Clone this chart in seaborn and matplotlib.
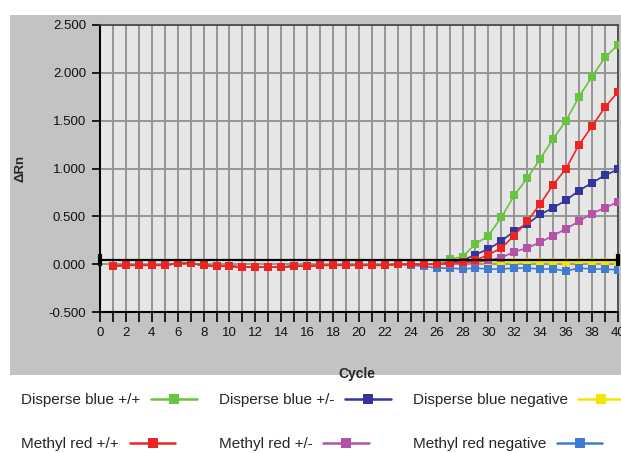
import numpy as np
import pandas as pd
import matplotlib
matplotlib.use("Agg")
import matplotlib.pyplot as plt
import seaborn as sns
from matplotlib.lines import Line2D
from matplotlib.patches import Rectangle
from matplotlib.ticker import MultipleLocator, FormatStrFormatter

# ==============================
# DATA
# ==============================
cycles = list(range(1, 41))

baseline = [-0.02, -0.01, -0.01, -0.01, -0.01, 0.01, 0.01, -0.01, -0.02, -0.02,
            -0.03, -0.03, -0.03, -0.03, -0.02, -0.02, -0.01, -0.01, -0.01, -0.01,
            -0.01, -0.01, 0.00, 0.00, 0.00, 0.00]

db_pos_pos = baseline + [0.05, 0.08, 0.21, 0.30, 0.49, 0.72, 0.90, 1.10, 1.31,
                         1.50, 1.75, 1.96, 2.16, 2.29]
mr_pos_pos = baseline + [0.01, 0.02, 0.04, 0.10, 0.17, 0.30, 0.45, 0.63, 0.83,
                         1.00, 1.25, 1.44, 1.64, 1.80]
db_pos_neg = baseline + [0.02, 0.04, 0.10, 0.16, 0.24, 0.35, 0.42, 0.52, 0.59,
                         0.67, 0.77, 0.85, 0.93, 0.99]
mr_pos_neg = baseline + [0.00, 0.01, 0.02, 0.04, 0.07, 0.13, 0.17, 0.23, 0.30,
                         0.37, 0.45, 0.53, 0.59, 0.65]
db_negative = baseline + [0.01, 0.02, 0.02, 0.02, 0.02, 0.02, 0.02, 0.02, 0.02,
                          0.02, 0.02, 0.02, 0.02, 0.02]
mr_negative = baseline[:23] + [-0.01, -0.02, -0.04, -0.04, -0.05, -0.04, -0.05,
                               -0.05, -0.04, -0.04, -0.05, -0.05, -0.07, -0.04,
                               -0.05, -0.05, -0.06]

threshold = 0.04

series_names = ["Disperse blue +/+", "Methyl red +/+", "Disperse blue +/-",
                "Methyl red +/-", "Disperse blue negative", "Methyl red negative"]
series_values = [db_pos_pos, mr_pos_pos, db_pos_neg, mr_pos_neg, db_negative, mr_negative]
series_colors = ["#66c43f", "#ee2424", "#33359a", "#b452a8", "#f2e600", "#3d7cd2"]
draw_order = ["Disperse blue negative", "Methyl red negative", "Methyl red +/-",
              "Disperse blue +/-", "Disperse blue +/+", "Methyl red +/+"]

frames = []
for name, vals in zip(series_names, series_values):
    frames.append(pd.DataFrame({"Cycle": cycles, "dRn": vals, "Series": name}))
df = pd.concat(frames, ignore_index=True)
palette = dict(zip(series_names, series_colors))

# ==============================
# STYLE
# ==============================
sns.set_theme(style="white")
plt.rcParams["font.family"] = ["Liberation Sans", "DejaVu Sans"]

fig = plt.figure(figsize=(6.21, 4.53), dpi=100)
fig.patch.set_facecolor("white")
fig.add_artist(Rectangle((0.016, 0.172), 0.984, 0.795, transform=fig.transFigure,
                         facecolor="#c3c3c3", edgecolor="none", zorder=-10))

ax = fig.add_axes([0.161, 0.311, 0.834, 0.634])
ax.set_facecolor("#e6e6e6")

# ==============================
# PLOT
# ==============================
for name in draw_order:
    sns.lineplot(data=df[df["Series"] == name], x="Cycle", y="dRn", color=palette[name],
                 marker="s", markersize=6, markeredgewidth=0, linewidth=1.2,
                 ax=ax, legend=False, zorder=3)

ax.axhline(threshold, color="black", lw=1.6, zorder=4)
ax.plot([0, 40], [threshold, threshold], ls="none", marker="|", ms=9, mew=3,
        color="black", zorder=4, clip_on=False)

ax.set_xlim(0, 40)
ax.set_ylim(-0.5, 2.5)
ax.xaxis.set_major_locator(MultipleLocator(2))
ax.xaxis.set_minor_locator(MultipleLocator(1))
ax.yaxis.set_major_locator(MultipleLocator(0.5))
ax.yaxis.set_major_formatter(FormatStrFormatter("%.3f"))

ax.grid(which="both", axis="x", color="#959595", lw=1.4)
ax.grid(which="major", axis="y", color="#959595", lw=1.4)
ax.set_axisbelow(True)

ax.tick_params(axis="both", which="both", direction="out", color="black",
               labelsize=9.5, labelcolor="#111111")
ax.tick_params(axis="x", which="both", length=7, width=1.2, bottom=True)
ax.tick_params(axis="y", which="major", length=6, width=1.2, left=True, pad=4)

for side in ["left", "bottom"]:
    ax.spines[side].set_color("black")
    ax.spines[side].set_linewidth(1.5)
for side in ["top", "right"]:
    ax.spines[side].set_color("#444444")
    ax.spines[side].set_linewidth(1.2)

ax.set_xlabel("Cycle", fontweight="bold", fontsize=10)
ax.xaxis.set_label_coords(0.496, -0.19)
ax.set_ylabel("\u0394Rn", fontweight="bold", fontsize=9.5)
ax.yaxis.set_label_coords(-0.141, 0.5)

# ==============================
# LEGEND (label text first, sample to the right)
# ==============================
legend_x = [0.022, 0.340, 0.652]
legend_y = [0.117, 0.02]
for i, (name, col) in enumerate(zip(series_names, series_colors)):
    h = Line2D([], [], color=col, lw=1.8, marker="s", ms=7.5, mew=0)
    leg = fig.legend(handles=[h], labels=[name], loc="center left",
                     bbox_to_anchor=(legend_x[i // 2], legend_y[i % 2]),
                     markerfirst=False, frameon=False, borderpad=0,
                     handlelength=3.0, handletextpad=0.7, fontsize=11)

fig.savefig("out.png", dpi=100)
